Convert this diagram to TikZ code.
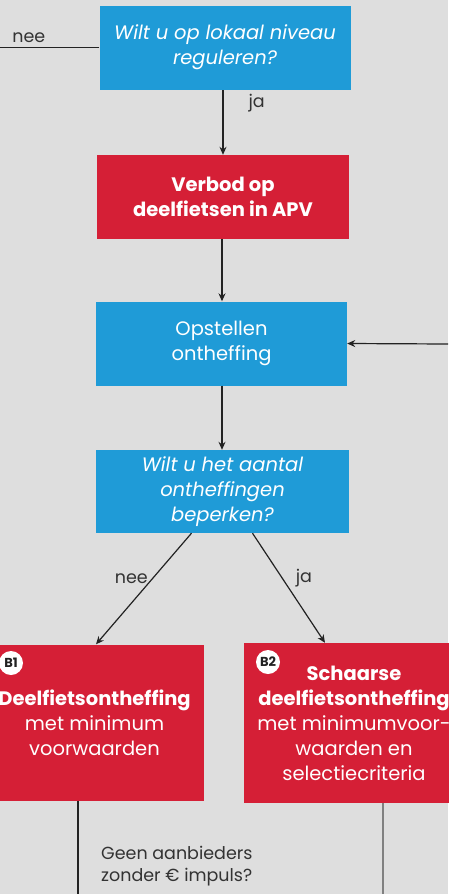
\documentclass[tikz,border=0pt]{standalone}
\usepackage{fontspec}
\setmainfont{Poppins}
\usetikzlibrary{arrows.meta}
\definecolor{vakblauw}{HTML}{1F9BD7}
\definecolor{vakrood}{HTML}{D51F36}
\definecolor{achtergrond}{HTML}{DEDEDE}
\definecolor{lijn}{HTML}{222222}
\definecolor{tekst}{HTML}{333333}

\begin{document}
\begin{tikzpicture}
  [x=1pt,y=-1pt,
   every node/.style={font=\fontsize{19.5}{25}\selectfont,inner sep=0pt},
   blauw/.style={fill=vakblauw,text=white,minimum width=251pt,minimum height=84pt,align=center},
   rood/.style={fill=vakrood,text=white,minimum width=218pt,minimum height=156pt,align=center},
   badge/.style={circle,fill=white,text=lijn,minimum size=24pt,font=\fontsize{13}{13}\selectfont\bfseries},
   label/.style={text=tekst,font=\fontsize{17.5}{22}\selectfont},
   pijl/.style={draw=lijn,line width=1.2pt,-{Stealth[length=8pt,width=7pt]}},
   lijntje/.style={draw=lijn,line width=1.2pt}]
  \fill[achtergrond] (0,0) rectangle (448,894);
  \useasboundingbox (0,0) rectangle (448,894);

  \node[blauw] (vraag1) at (225,47.5) {\itshape Wilt u op lokaal niveau\\\itshape reguleren?};
  \node[rood,minimum width=252pt,minimum height=84pt] (verbod) at (223,197) {\bfseries Verbod op\\\bfseries deelfietsen in APV};
  \node[blauw] (opstellen) at (221.5,343.5) {Opstellen\\ontheffing};
  \node[blauw,minimum width=253pt,minimum height=83pt] (vraag2) at (222.5,491.5) {\itshape Wilt u het aantal\\\itshape ontheffingen\\\itshape beperken?};
  \node[rood] (b1) at (94.5,722.5) {\bfseries Deelfietsontheffing\\met minimum\\voorwaarden};
  \node[rood,minimum width=220pt,minimum height=160pt] (b2) at (354,723) {\bfseries Schaarse\\\bfseries deelfietsontheffing\\met minimumvoor-\\waarden en\\selectiecriteria};
  \node[badge] (badge1) at (11,663) {B1};
  \node[badge] (badge2) at (268,662) {B2};
  \node[label,align=left,anchor=north west] (impuls) at (101,846) {Geen aanbieders\\zonder € impuls?};

  \coordinate (links) at (0,47.5);
  \coordinate (rechts) at (448,344);
  \coordinate (onder1) at (78,894);
  \coordinate (onder2) at (383,894);

  \draw[lijntje] (vraag1.west) -- node[label,above,pos=0.71,yshift=4pt] {nee} (links);
  \draw[pijl] (223,90) -- node[label,right,xshift=25pt,pos=0.2] {ja} (verbod);
  \foreach \from/\to in {verbod/opstellen,opstellen/vraag2}
    \draw[pijl] (\from.south -| 222,0) -- (\to.north -| 222,0);
  \draw[pijl] ([xshift=-31pt]vraag2.south) -- node[label,left,pos=0.41,xshift=-4pt] {nee} ([xshift=1.5pt]b1.north);
  \draw[pijl] ([xshift=30pt]vraag2.south) -- node[label,right,pos=0.41,xshift=13pt] {ja} ([xshift=-29pt]b2.north);
  \draw[pijl] (rechts) -- (opstellen.east);
  \draw[lijntje] (b1.south -| onder1) -- (onder1);
  \draw[lijntje,draw=gray] (b2.south -| onder2) -- (onder2);

\end{tikzpicture}
\end{document}
